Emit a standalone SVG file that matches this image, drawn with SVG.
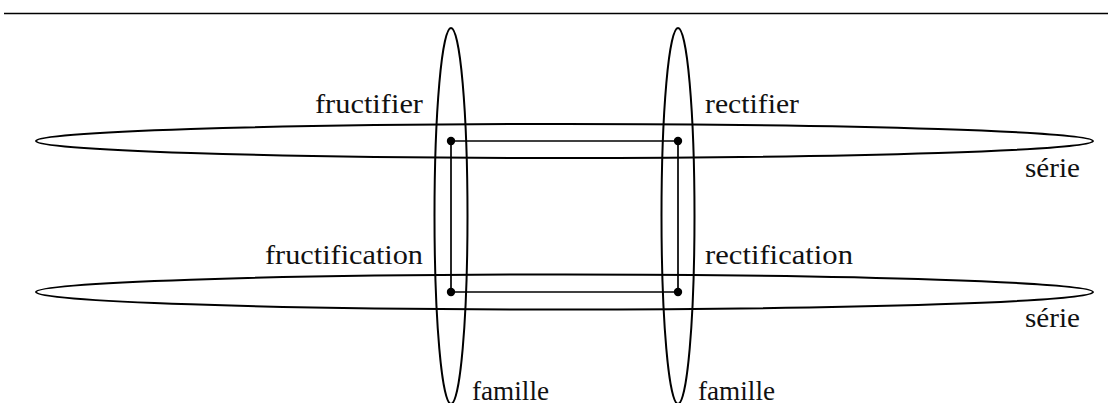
<svg xmlns="http://www.w3.org/2000/svg" width="1108" height="403" viewBox="0 0 1108 403">
  <style>
    .set { fill: none; stroke: #000; stroke-width: 2; }
    .link { fill: none; stroke: #000; stroke-width: 1.7; }
    .dot { fill: #000; }
    .lbl { font-family: "Liberation Serif", "DejaVu Serif", serif; font-size: 28px; fill: #111; }
  </style>

  <!-- top rule -->
  <line x1="4" y1="13.5" x2="1108" y2="13.5" stroke="#000" stroke-width="1.4"/>

  <!-- series (horizontal sets) -->
  <g id="serie-top">
    <ellipse class="set" cx="564.5" cy="141" rx="528.5" ry="17"/>
    <text class="lbl" x="1080" y="177" text-anchor="end" textLength="55" lengthAdjust="spacingAndGlyphs">série</text>
  </g>
  <g id="serie-bottom">
    <ellipse class="set" cx="564.5" cy="292" rx="528.5" ry="17.5"/>
    <text class="lbl" x="1080" y="327" text-anchor="end" textLength="55" lengthAdjust="spacingAndGlyphs">série</text>
  </g>

  <!-- families (vertical sets) -->
  <g id="famille-left">
    <ellipse class="set" cx="451" cy="216" rx="16.5" ry="188"/>
    <text class="lbl" x="472" y="400" textLength="77" lengthAdjust="spacingAndGlyphs">famille</text>
  </g>
  <g id="famille-right">
    <ellipse class="set" cx="678" cy="216" rx="16.5" ry="188"/>
    <text class="lbl" x="698" y="400" textLength="77" lengthAdjust="spacingAndGlyphs">famille</text>
  </g>

  <!-- words -->
  <g id="fructifier">
    <circle class="dot" cx="451" cy="141" r="4.2"/>
    <text class="lbl" x="423" y="113" text-anchor="end" textLength="108" lengthAdjust="spacingAndGlyphs">fructifier</text>
  </g>
  <g id="rectifier">
    <circle class="dot" cx="678" cy="141" r="4.2"/>
    <text class="lbl" x="705" y="113" textLength="94" lengthAdjust="spacingAndGlyphs">rectifier</text>
  </g>
  <g id="fructification">
    <circle class="dot" cx="451" cy="292" r="4.2"/>
    <text class="lbl" x="423" y="264" text-anchor="end" textLength="158" lengthAdjust="spacingAndGlyphs">fructification</text>
  </g>
  <g id="rectification">
    <circle class="dot" cx="678" cy="292" r="4.2"/>
    <text class="lbl" x="705" y="264" textLength="148" lengthAdjust="spacingAndGlyphs">rectification</text>
  </g>

  <!-- connectors between words -->
  <g id="connectors">
    <line class="link" x1="451" y1="141" x2="678" y2="141"/>
    <line class="link" x1="451" y1="292" x2="678" y2="292"/>
    <line class="link" x1="451" y1="141" x2="451" y2="292"/>
    <line class="link" x1="678" y1="141" x2="678" y2="292"/>
  </g>
</svg>
